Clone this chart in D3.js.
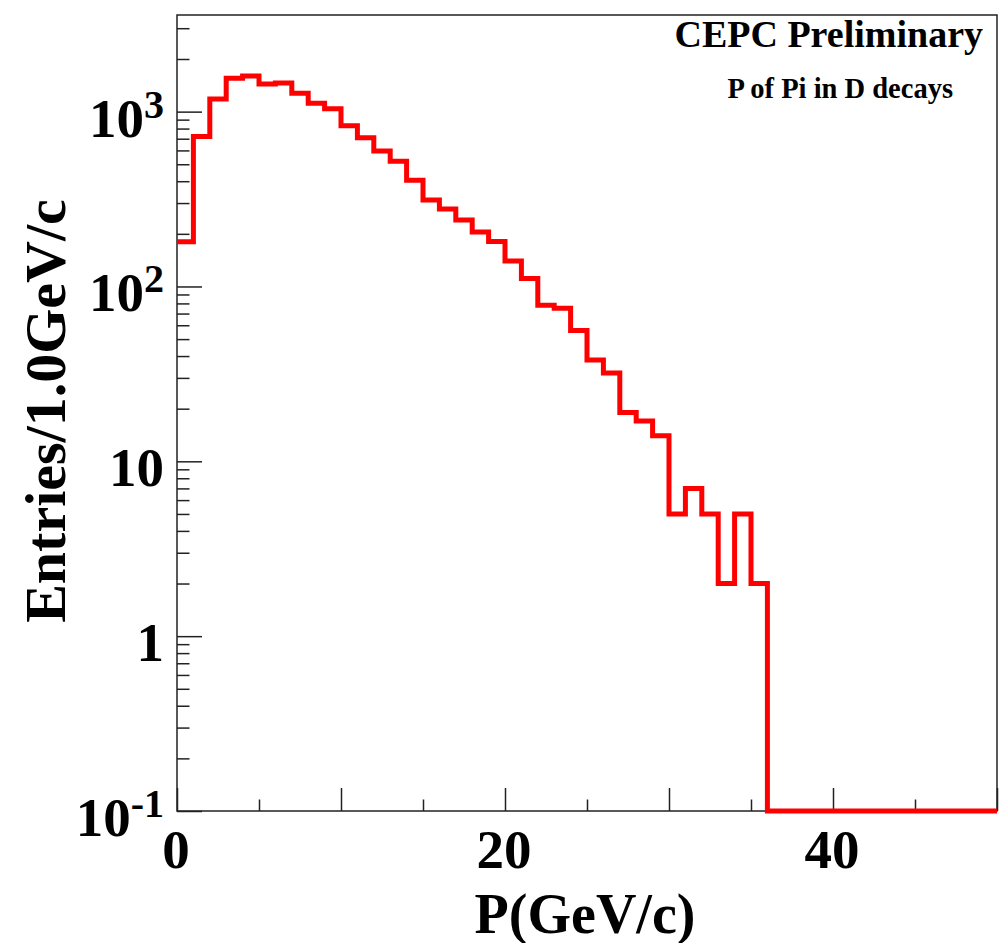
<!DOCTYPE html>
<html lang="en"><head><meta http-equiv="Content-Type" content="text/html; charset=UTF-8">
<meta charset="utf-8">
<title>P of Pi in D decays</title>
<script type="text/javascript" src="https://cdn.jsdelivr.net/npm/d3@7"></script>
<style>
  body { margin: 0; background: #fff; }
  text { font-family: "Liberation Serif", "Times New Roman", serif; font-weight: bold; fill: #000; }
</style>
</head>
<body>
<script type="text/javascript">
// histogram: 50 bins of 1 GeV/c from 0 to 50, entries per bin (0 = empty)
var binEdges = [0, 50];
var binWidth = 1;
var entries = [180, 720, 1180, 1550, 1600, 1440, 1460, 1275, 1115, 1040,
               830, 710, 595, 520, 405, 312, 277, 240, 205, 181,
               140, 111, 78, 75, 56, 38, 32, 19, 17, 14,
               5, 7, 5, 2, 5, 2, 0, 0, 0, 0,
               0, 0, 0, 0, 0, 0, 0, 0, 0, 0];

var yRange = [0.1, 3570];
var xMajorTicks = [0, 10, 20, 30, 40, 50];
var xTickLabels = ["0", "", "20", "", "40", ""];
var xMinorTicks = [5, 15, 25, 35, 45];
var yMajorTicks = [0.1, 1, 10, 100, 1000];
var yTickBase = ["10", "1", "10", "10", "10"];
var yTickExp = ["-1", "", "", "2", "3"];

var xTitle = "P(GeV/c)";
var yTitle = "Entries/1.0GeV/c";
var tagLine = "CEPC Preliminary";
var histTitle = "P of Pi in D decays";

var width = 1007;
var height = 943;
var padLeft = 177, padRight = 997, padTop = 15, padBottom = 811;

var svg = d3.select("body").append("svg")
            .attr("width", width)
            .attr("height", height);

var xScale = d3.scaleLinear().domain(binEdges).range([padLeft, padRight]);
var yScale = d3.scaleLog().domain(yRange).range([padBottom, padTop]);

// minor log ticks 2..9 per decade
var yMinorTicks = [];
yMajorTicks.forEach(function(d){
  for (var k = 2; k <= 9; k++) {
    if (d * k <= yRange[1]) yMinorTicks.push(d * k);
  }
});

// frame
svg.append("rect")
    .attr("x", padLeft)
    .attr("y", padTop)
    .attr("width", padRight - padLeft)
    .attr("height", padBottom - padTop)
    .attr("fill", "none")
    .attr("stroke", "#222")
    .attr("stroke-width", 1.5);

// ticks point inside the frame
var xAxis = d3.axisTop(xScale).tickValues(xMajorTicks).tickSize(23).tickFormat("");
var xAxisMinor = d3.axisTop(xScale).tickValues(xMinorTicks).tickSize(11.5).tickFormat("");
var yAxis = d3.axisRight(yScale).tickValues(yMajorTicks).tickSize(25).tickFormat("");
var yAxisMinor = d3.axisRight(yScale).tickValues(yMinorTicks).tickSize(12.5).tickFormat("");

[[xAxis, "translate(0," + padBottom + ")"], [xAxisMinor, "translate(0," + padBottom + ")"],
 [yAxis, "translate(" + padLeft + ",0)"], [yAxisMinor, "translate(" + padLeft + ",0)"]].forEach(function(a){
  var g = svg.append("g")
      .attr("transform", a[1])
      .call(a[0]);
  g.select(".domain").remove();
  g.selectAll("line").attr("stroke", "#222").attr("stroke-width", 1.5);
});

// x tick labels
svg.selectAll(".xlabel")
    .data(xMajorTicks)
    .enter()
    .append("text")
    .attr("class", "xlabel")
    .attr("text-anchor", "middle")
    .attr("font-size", 55)
    .attr("x", function(d){ return xScale(d) - 1; })
    .attr("y", padBottom + 57)
    .text(function(d, i){ return xTickLabels[i]; });

// y tick labels, with exponent as superscript
var ylab = svg.selectAll(".ylabel")
    .data(yMajorTicks)
    .enter()
    .append("text")
    .attr("class", "ylabel")
    .attr("text-anchor", "end")
    .attr("font-size", 55)
    .attr("x", 164)
    .attr("y", function(d){ return yScale(d) + 25; });

ylab.append("tspan").text(function(d, i){ return yTickBase[i]; });
ylab.append("tspan")
    .attr("font-size", 40)
    .attr("dy", -19)
    .text(function(d, i){ return yTickExp[i]; });

// axis titles
svg.append("text")
    .attr("text-anchor", "middle")
    .attr("font-size", 56)
    .attr("x", (padLeft + padRight) / 2 - 2)
    .attr("y", 933)
    .text(xTitle);

svg.append("text")
    .attr("text-anchor", "middle")
    .attr("font-size", 58)
    .attr("transform", "translate(65," + 411 + ") rotate(-90)")
    .text(yTitle);

svg.append("text")
    .attr("text-anchor", "end")
    .attr("font-size", 38)
    .attr("x", 983)
    .attr("y", 47)
    .text(tagLine);

svg.append("text")
    .attr("text-anchor", "end")
    .attr("font-size", 28.5)
    .attr("x", 953)
    .attr("y", 98)
    .text(histTitle);

// histogram as a step line; empty bins sit on the axis minimum
var steps = entries.map(function(v, i){ return [binEdges[0] + i * binWidth, Math.max(v, yRange[0])]; });
steps.push([binEdges[1], Math.max(entries[entries.length - 1], yRange[0])]);

var line = d3.line()
    .x(function(d){ return xScale(d[0]); })
    .y(function(d){ return yScale(d[1]); })
    .curve(d3.curveStepAfter);

svg.append("path")
    .datum(steps)
    .attr("fill", "none")
    .attr("stroke", "#ff0000")
    .attr("stroke-width", 5)
    .attr("d", line);
</script>
</body></html>
